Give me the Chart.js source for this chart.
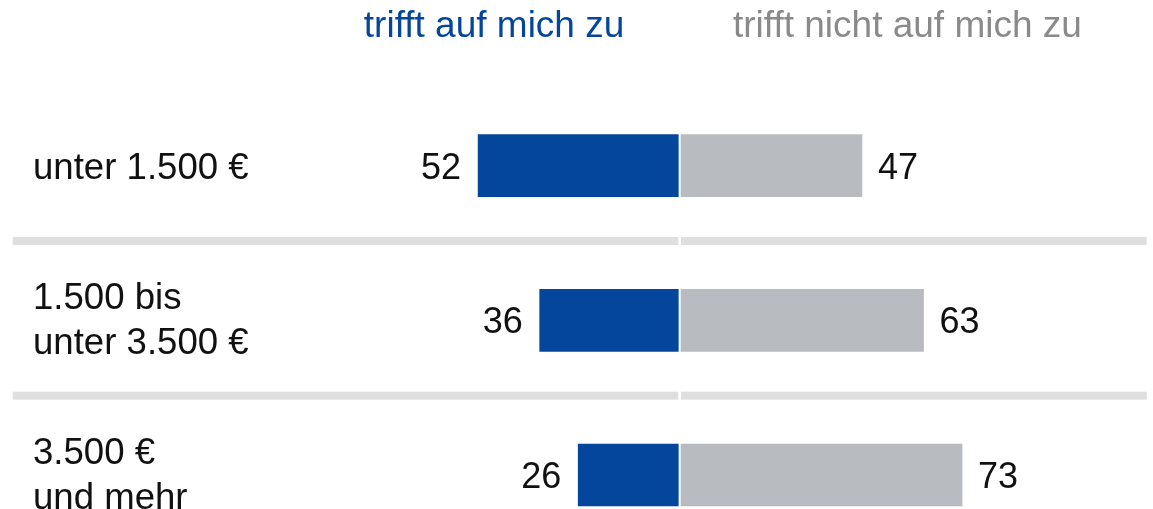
<!DOCTYPE html>
<html>
<head>
<meta charset="utf-8">
<script src="https://cdn.jsdelivr.net/npm/chart.js@4/dist/chart.umd.min.js"></script>
<style>
  html, body { margin: 0; padding: 0; background: #ffffff; }
  #wrap { position: relative; width: 1153px; height: 509px; }
</style>
</head>
<body>
<div id="wrap"><canvas id="c"></canvas></div>
<script>
// ---- data ----
const categories = [["unter 1.500 €"], ["1.500 bis", "unter 3.500 €"], ["3.500 €", "und mehr"]];
const seriesNames = ["trifft auf mich zu", "trifft nicht auf mich zu"];
const agreeValues = [52, 36, 26];
const disagreeValues = [47, 63, 73];

// ---- styling / layout ----
const BLUE = "#03469b";
const GREY = "#b8bcc0";
const HEAD_GREY = "#8a8a8a";
const TEXT = "#111111";
const FONT = "'Liberation Sans', Arial, Helvetica, sans-serif";
const PX_PER_UNIT = 3.85;
const AREA_LEFT = 12.7, AREA_RIGHT = 1146.7, W = 1153, H = 509;
const CENTER_L = 678.3, CENTER_R = 681;

const overlay = {
  id: "overlay",
  beforeDatasetsDraw(chart) {
    const ctx = chart.ctx, y = chart.scales.y, a = chart.chartArea;
    const xl = chart.scales.xL.getPixelForValue(0);
    const xr = chart.scales.xR.getPixelForValue(0);
    ctx.save();
    ctx.fillStyle = "#dfdfdf";
    for (let i = 1; i < categories.length; i++) {
      const yc = (y.getPixelForValue(i - 1) + y.getPixelForValue(i)) / 2 - 2;
      ctx.fillRect(a.left, yc - 4, xl - a.left, 8);
      ctx.fillRect(xr, yc - 4, a.right - xr, 8);
    }
    ctx.restore();
  },
  afterDatasetsDraw(chart) {
    const ctx = chart.ctx, y = chart.scales.y;
    const xL = chart.scales.xL, xR = chart.scales.xR;
    ctx.save();
    ctx.textBaseline = "alphabetic";
    // headers
    ctx.font = "37px " + FONT;
    ctx.fillStyle = BLUE;
    ctx.textAlign = "right";
    ctx.fillText(seriesNames[0], xL.getPixelForValue(0) - 54, 36.7);
    ctx.fillStyle = HEAD_GREY;
    ctx.textAlign = "left";
    ctx.fillText(seriesNames[1], xR.getPixelForValue(0) + 52, 36.7);
    // rows
    categories.forEach((lines, i) => {
      const yc = y.getPixelForValue(i);
      ctx.font = "36.6px " + FONT;
      ctx.fillStyle = TEXT;
      ctx.textAlign = "left";
      if (lines.length === 1) {
        ctx.fillText(lines[0], 33, yc + 13.5);
      } else {
        ctx.fillText(lines[0], 33, yc - 11.5);
        ctx.fillText(lines[1], 33, yc + 33.5);
      }
      ctx.font = "36px " + FONT;
      ctx.textAlign = "right";
      ctx.fillText(String(agreeValues[i]), xL.getPixelForValue(-agreeValues[i]) - 17, yc + 13);
      ctx.textAlign = "left";
      ctx.fillText(String(disagreeValues[i]), xR.getPixelForValue(disagreeValues[i]) + 16, yc + 13);
    });
    ctx.restore();
  }
};

new Chart(document.getElementById("c"), {
  type: "bar",
  data: {
    labels: categories,
    datasets: [
      {
        label: seriesNames[0],
        data: agreeValues.map(v => -v),
        backgroundColor: BLUE,
        xAxisID: "xL",
        grouped: false,
        barThickness: 62,
        borderWidth: 0,
        clip: false
      },
      {
        label: seriesNames[1],
        data: disagreeValues,
        backgroundColor: GREY,
        xAxisID: "xR",
        grouped: false,
        barThickness: 62,
        borderWidth: 0,
        clip: false
      }
    ]
  },
  options: {
    indexAxis: "y",
    responsive: true,
    maintainAspectRatio: false,
    animation: false,
    layout: { padding: { left: AREA_LEFT, right: W - AREA_RIGHT, top: 165.7, bottom: H - 475 } },
    plugins: { legend: { display: false }, tooltip: { enabled: false } },
    scales: {
      y: { type: "category", display: false, offset: false, grid: { display: false } },
      xL: {
        type: "linear", display: false,
        min: -(CENTER_L - AREA_LEFT) / PX_PER_UNIT,
        max: (AREA_RIGHT - CENTER_L) / PX_PER_UNIT
      },
      xR: {
        type: "linear", display: false,
        min: -(CENTER_R - AREA_LEFT) / PX_PER_UNIT,
        max: (AREA_RIGHT - CENTER_R) / PX_PER_UNIT
      }
    }
  },
  plugins: [overlay]
});
</script>
</body>
</html>
